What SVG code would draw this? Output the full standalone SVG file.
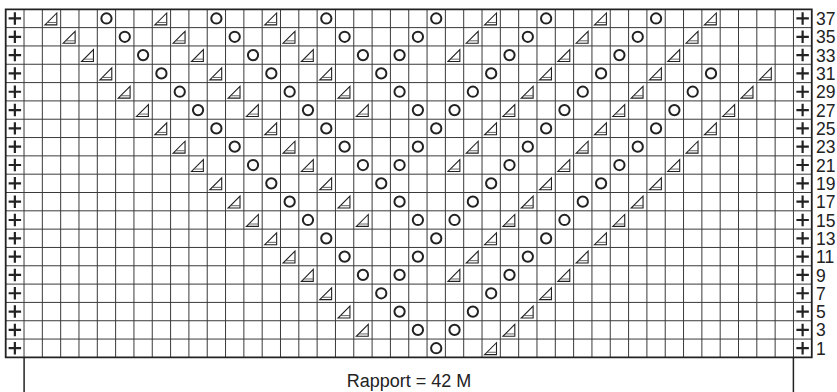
<svg xmlns="http://www.w3.org/2000/svg" xmlns:xlink="http://www.w3.org/1999/xlink" width="837" height="392" viewBox="0 0 837 392">
<style>
.gl{fill:none;stroke:#3a3a3a;stroke-width:1;vector-effect:non-scaling-stroke}
.bd{fill:none;stroke:#222;stroke-width:1.8;vector-effect:non-scaling-stroke}
.sym{fill:none;stroke:#222;vector-effect:non-scaling-stroke}
.lbl{font-family:"Liberation Sans Narrow","Liberation Sans",Arial,sans-serif;font-size:17.5px;fill:#222}
.cap{font-family:"Liberation Sans",Arial,sans-serif;font-size:18px;fill:#222;text-anchor:middle}
.br{stroke:#222;stroke-width:1.5;fill:none}
</style>
<defs>
<g id="t"><path class="sym" style="stroke-width:1.1" d="M0.14 0.85 L0.79 0.85 L0.79 0.2 Z"/><path class="sym" style="stroke-width:0.9;stroke:#555" d="M0.27 0.72 H0.79"/></g>
<g id="c"><circle class="sym" style="stroke-width:2" cx="0.5" cy="0.5" r="0.28"/></g>
<g id="p"><path class="sym" style="stroke-width:2.2" d="M0.16 0.5 H0.84 M0.5 0.16 V0.84"/></g>
</defs>
<rect width="837" height="392" fill="#fff"/>
<g id="chart" transform="translate(5.7 9.3) scale(18.32)">
<path class="gl" d="M1 0V19M2 0V19M3 0V19M4 0V19M5 0V19M6 0V19M7 0V19M8 0V19M9 0V19M10 0V19M11 0V19M12 0V19M13 0V19M14 0V19M15 0V19M16 0V19M17 0V19M18 0V19M19 0V19M20 0V19M21 0V19M22 0V19M23 0V19M24 0V19M25 0V19M26 0V19M27 0V19M28 0V19M29 0V19M30 0V19M31 0V19M32 0V19M33 0V19M34 0V19M35 0V19M36 0V19M37 0V19M38 0V19M39 0V19M40 0V19M41 0V19M42 0V19M43 0V19M0 1H44M0 2H44M0 3H44M0 4H44M0 5H44M0 6H44M0 7H44M0 8H44M0 9H44M0 10H44M0 11H44M0 12H44M0 13H44M0 14H44M0 15H44M0 16H44M0 17H44M0 18H44"/>
<rect class="bd" x="0" y="0" width="44" height="19"/>
<g id="plus-left">
<use href="#p" x="0" y="0"/><use href="#p" x="0" y="1"/><use href="#p" x="0" y="2"/><use href="#p" x="0" y="3"/><use href="#p" x="0" y="4"/><use href="#p" x="0" y="5"/><use href="#p" x="0" y="6"/><use href="#p" x="0" y="7"/><use href="#p" x="0" y="8"/><use href="#p" x="0" y="9"/><use href="#p" x="0" y="10"/><use href="#p" x="0" y="11"/><use href="#p" x="0" y="12"/><use href="#p" x="0" y="13"/><use href="#p" x="0" y="14"/><use href="#p" x="0" y="15"/><use href="#p" x="0" y="16"/><use href="#p" x="0" y="17"/><use href="#p" x="0" y="18"/>
</g>
<g id="plus-right">
<use href="#p" x="43" y="0"/><use href="#p" x="43" y="1"/><use href="#p" x="43" y="2"/><use href="#p" x="43" y="3"/><use href="#p" x="43" y="4"/><use href="#p" x="43" y="5"/><use href="#p" x="43" y="6"/><use href="#p" x="43" y="7"/><use href="#p" x="43" y="8"/><use href="#p" x="43" y="9"/><use href="#p" x="43" y="10"/><use href="#p" x="43" y="11"/><use href="#p" x="43" y="12"/><use href="#p" x="43" y="13"/><use href="#p" x="43" y="14"/><use href="#p" x="43" y="15"/><use href="#p" x="43" y="16"/><use href="#p" x="43" y="17"/><use href="#p" x="43" y="18"/>
</g>
<g id="row37"><use href="#t" x="2" y="0"/><use href="#c" x="5" y="0"/><use href="#t" x="8" y="0"/><use href="#c" x="11" y="0"/><use href="#t" x="14" y="0"/><use href="#c" x="17" y="0"/><use href="#c" x="23" y="0"/><use href="#t" x="26" y="0"/><use href="#c" x="29" y="0"/><use href="#t" x="32" y="0"/><use href="#c" x="35" y="0"/><use href="#t" x="38" y="0"/></g>
<g id="row35"><use href="#t" x="3" y="1"/><use href="#c" x="6" y="1"/><use href="#t" x="9" y="1"/><use href="#c" x="12" y="1"/><use href="#t" x="15" y="1"/><use href="#c" x="18" y="1"/><use href="#c" x="22" y="1"/><use href="#t" x="25" y="1"/><use href="#c" x="28" y="1"/><use href="#t" x="31" y="1"/><use href="#c" x="34" y="1"/><use href="#t" x="37" y="1"/></g>
<g id="row33"><use href="#t" x="4" y="2"/><use href="#c" x="7" y="2"/><use href="#t" x="10" y="2"/><use href="#c" x="13" y="2"/><use href="#t" x="16" y="2"/><use href="#c" x="19" y="2"/><use href="#c" x="21" y="2"/><use href="#t" x="24" y="2"/><use href="#c" x="27" y="2"/><use href="#t" x="30" y="2"/><use href="#c" x="33" y="2"/><use href="#t" x="36" y="2"/></g>
<g id="row31"><use href="#t" x="5" y="3"/><use href="#c" x="8" y="3"/><use href="#t" x="11" y="3"/><use href="#c" x="14" y="3"/><use href="#t" x="17" y="3"/><use href="#c" x="20" y="3"/><use href="#c" x="26" y="3"/><use href="#t" x="29" y="3"/><use href="#c" x="32" y="3"/><use href="#t" x="35" y="3"/><use href="#c" x="38" y="3"/><use href="#t" x="41" y="3"/></g>
<g id="row29"><use href="#t" x="6" y="4"/><use href="#c" x="9" y="4"/><use href="#t" x="12" y="4"/><use href="#c" x="15" y="4"/><use href="#t" x="18" y="4"/><use href="#c" x="21" y="4"/><use href="#c" x="25" y="4"/><use href="#t" x="28" y="4"/><use href="#c" x="31" y="4"/><use href="#t" x="34" y="4"/><use href="#c" x="37" y="4"/><use href="#t" x="40" y="4"/></g>
<g id="row27"><use href="#t" x="7" y="5"/><use href="#c" x="10" y="5"/><use href="#t" x="13" y="5"/><use href="#c" x="16" y="5"/><use href="#t" x="19" y="5"/><use href="#c" x="22" y="5"/><use href="#c" x="24" y="5"/><use href="#t" x="27" y="5"/><use href="#c" x="30" y="5"/><use href="#t" x="33" y="5"/><use href="#c" x="36" y="5"/><use href="#t" x="39" y="5"/></g>
<g id="row25"><use href="#t" x="8" y="6"/><use href="#c" x="11" y="6"/><use href="#t" x="14" y="6"/><use href="#c" x="17" y="6"/><use href="#c" x="23" y="6"/><use href="#t" x="26" y="6"/><use href="#c" x="29" y="6"/><use href="#t" x="32" y="6"/><use href="#c" x="35" y="6"/><use href="#t" x="38" y="6"/></g>
<g id="row23"><use href="#t" x="9" y="7"/><use href="#c" x="12" y="7"/><use href="#t" x="15" y="7"/><use href="#c" x="18" y="7"/><use href="#c" x="22" y="7"/><use href="#t" x="25" y="7"/><use href="#c" x="28" y="7"/><use href="#t" x="31" y="7"/><use href="#c" x="34" y="7"/><use href="#t" x="37" y="7"/></g>
<g id="row21"><use href="#t" x="10" y="8"/><use href="#c" x="13" y="8"/><use href="#t" x="16" y="8"/><use href="#c" x="19" y="8"/><use href="#c" x="21" y="8"/><use href="#t" x="24" y="8"/><use href="#c" x="27" y="8"/><use href="#t" x="30" y="8"/><use href="#c" x="33" y="8"/><use href="#t" x="36" y="8"/></g>
<g id="row19"><use href="#t" x="11" y="9"/><use href="#c" x="14" y="9"/><use href="#t" x="17" y="9"/><use href="#c" x="20" y="9"/><use href="#c" x="26" y="9"/><use href="#t" x="29" y="9"/><use href="#c" x="32" y="9"/><use href="#t" x="35" y="9"/></g>
<g id="row17"><use href="#t" x="12" y="10"/><use href="#c" x="15" y="10"/><use href="#t" x="18" y="10"/><use href="#c" x="21" y="10"/><use href="#c" x="25" y="10"/><use href="#t" x="28" y="10"/><use href="#c" x="31" y="10"/><use href="#t" x="34" y="10"/></g>
<g id="row15"><use href="#t" x="13" y="11"/><use href="#c" x="16" y="11"/><use href="#t" x="19" y="11"/><use href="#c" x="22" y="11"/><use href="#c" x="24" y="11"/><use href="#t" x="27" y="11"/><use href="#c" x="30" y="11"/><use href="#t" x="33" y="11"/></g>
<g id="row13"><use href="#t" x="14" y="12"/><use href="#c" x="17" y="12"/><use href="#c" x="23" y="12"/><use href="#t" x="26" y="12"/><use href="#c" x="29" y="12"/><use href="#t" x="32" y="12"/></g>
<g id="row11"><use href="#t" x="15" y="13"/><use href="#c" x="18" y="13"/><use href="#c" x="22" y="13"/><use href="#t" x="25" y="13"/><use href="#c" x="28" y="13"/><use href="#t" x="31" y="13"/></g>
<g id="row9"><use href="#t" x="16" y="14"/><use href="#c" x="19" y="14"/><use href="#c" x="21" y="14"/><use href="#t" x="24" y="14"/><use href="#c" x="27" y="14"/><use href="#t" x="30" y="14"/></g>
<g id="row7"><use href="#t" x="17" y="15"/><use href="#c" x="20" y="15"/><use href="#c" x="26" y="15"/><use href="#t" x="29" y="15"/></g>
<g id="row5"><use href="#t" x="18" y="16"/><use href="#c" x="21" y="16"/><use href="#c" x="25" y="16"/><use href="#t" x="28" y="16"/></g>
<g id="row3"><use href="#t" x="19" y="17"/><use href="#c" x="22" y="17"/><use href="#c" x="24" y="17"/><use href="#t" x="27" y="17"/></g>
<g id="row1"><use href="#c" x="23" y="18"/><use href="#t" x="26" y="18"/></g>
</g>
<g id="labels">
<text class="lbl" x="816" y="25">37</text>
<text class="lbl" x="816" y="43.3">35</text>
<text class="lbl" x="816" y="61.6">33</text>
<text class="lbl" x="816" y="80">31</text>
<text class="lbl" x="816" y="98.3">29</text>
<text class="lbl" x="816" y="116.6">27</text>
<text class="lbl" x="816" y="134.9">25</text>
<text class="lbl" x="816" y="153.2">23</text>
<text class="lbl" x="816" y="171.6">21</text>
<text class="lbl" x="816" y="189.9">19</text>
<text class="lbl" x="816" y="208.2">17</text>
<text class="lbl" x="816" y="226.5">15</text>
<text class="lbl" x="816" y="244.8">13</text>
<text class="lbl" x="816" y="263.2">11</text>
<text class="lbl" x="816" y="281.5">9</text>
<text class="lbl" x="816" y="299.8">7</text>
<text class="lbl" x="816" y="318.1">5</text>
<text class="lbl" x="816" y="336.4">3</text>
<text class="lbl" x="816" y="354.8">1</text>
</g>
<g id="rapport">
<path class="br" d="M24.1 357.3V392M793.4 357.3V392"/>
<text class="cap" x="409" y="387">Rapport = 42 M</text>
</g>
</svg>
